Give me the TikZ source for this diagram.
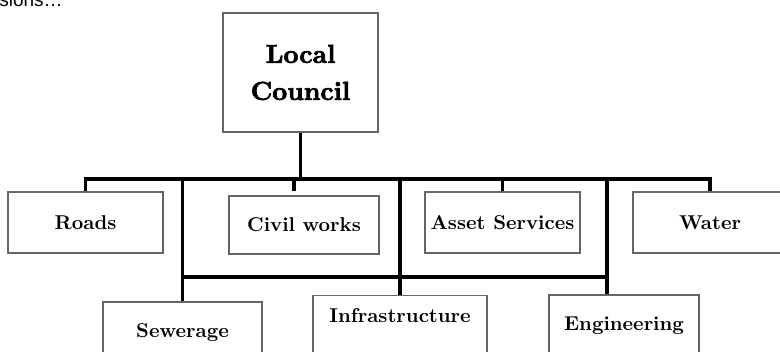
\documentclass[tikz,border=0pt]{standalone}
\usepackage{fontspec}
\newfontfamily\leadfont{Liberation Sans}
\newfontfamily\councilfont[FakeBold=2.5]{lmroman10-bold.otf}
\usetikzlibrary{calc}

\tikzset{
  unit/.style={draw=black!60, line width=0.6pt, font=\bfseries, inner sep=0pt},
  wire/.style={line width=1.6pt},
  thickwire/.style={line width=1.9pt}
}

\begin{document}
\begin{tikzpicture}[x=0.5pt,y=-0.5pt]
\useasboundingbox (0,0) rectangle (780,352);
\clip (0,0) rectangle (780,352);
\node[anchor=base west, inner sep=0pt, font=\leadfont\fontsize{9.5}{11}\selectfont] (lead) at (-1,7) {sions…};

\node[unit, minimum width=77.5pt, minimum height=59.5pt, font=\councilfont\fontsize{13}{15}\selectfont, align=center] (council) at (300.5,72.5) {Local\\[3.5pt]Council};

\node[unit, minimum width=77.5pt, minimum height=30.5pt] (roads) at (85.5,222.5) {Roads};
\node[unit, minimum width=75pt, minimum height=29pt] (civil) at (304,225) {Civil works};
\node[unit, minimum width=77.5pt, minimum height=30.5pt] (asset) at (502.5,222.5) {Asset Services};
\node[unit, minimum width=77pt, minimum height=30.5pt] (water) at (710,222.5) {Water};

\node[unit, minimum width=79.5pt, minimum height=31pt] (sewer) at (182.5,333) {Sewerage};
\node[unit, minimum width=87pt, anchor=north, inner ysep=6.6pt, text height=6.9pt, text depth=30pt] (infra) at (400,295) {Infrastructure};
\node[unit, minimum width=75pt, minimum height=30.5pt] (engin) at (624,325.5) {Engineering};

\coordinate (bus) at (0,179);
\coordinate (sub) at (0,277);
\coordinate (civiltap) at ($(civil.north)+(-10,-4)$);
\coordinate (engtap) at ($(engin.north)+(-17,0)$);

\draw[wire] (council.south) -- (council.south |- bus);
\draw[wire] (roads.north) -- (roads.north |- bus) -- (water.north |- bus) -- (water.north);
\draw[wire] (civiltap) -- (civiltap |- bus);
\draw[wire] (asset.north) -- (asset.north |- bus);

\draw[thickwire] (sewer.north) -- (sewer.north |- bus);
\draw[thickwire] (infra.north) -- (infra.north |- bus);
\draw[thickwire] (engtap) -- (engtap |- bus);
\draw[thickwire] (sewer.north |- sub) -- (engtap |- sub);
\end{tikzpicture}
\end{document}
